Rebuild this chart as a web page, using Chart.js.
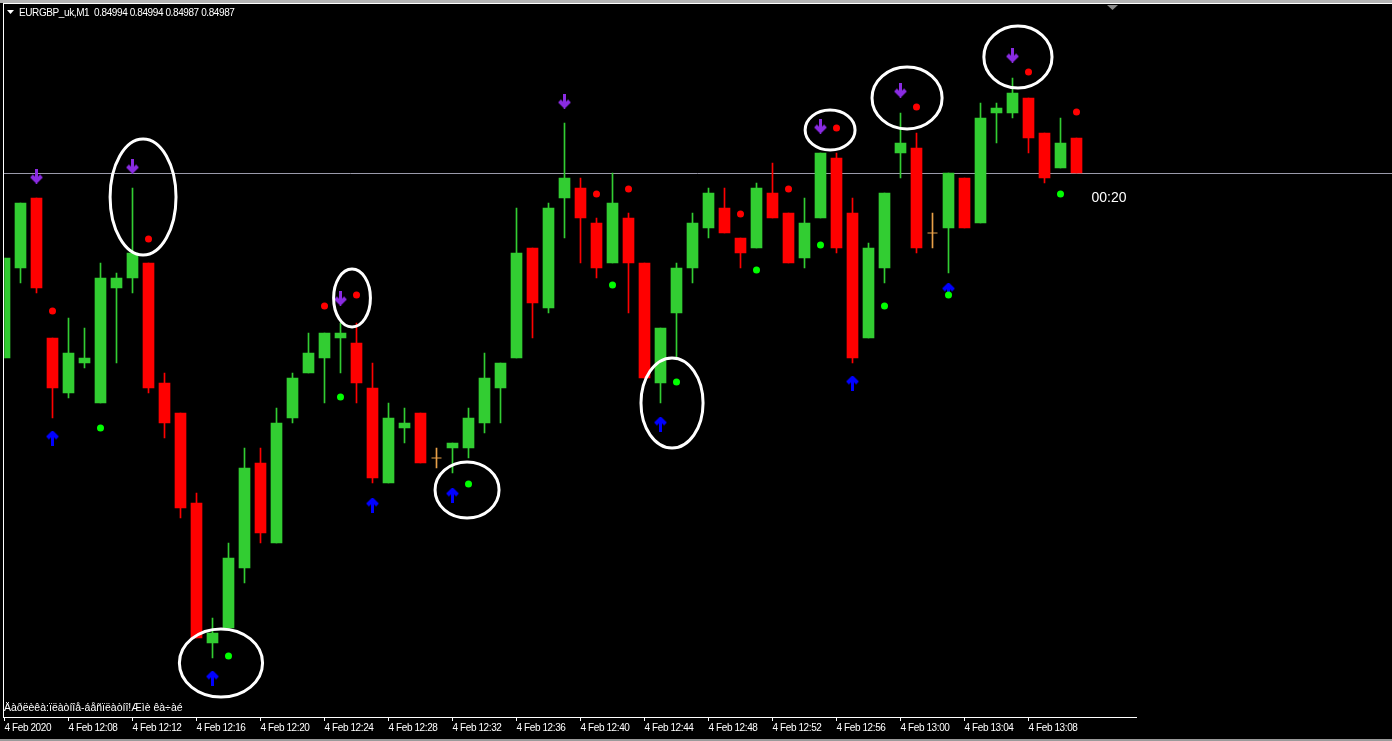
<!DOCTYPE html>
<html>
<head>
<meta charset="utf-8">
<script src="https://cdn.jsdelivr.net/npm/chart.js@4.4.1/dist/chart.umd.min.js"></script>
<style>
html, body { margin: 0; padding: 0; background: #000; overflow: hidden; }
#wrap { position: relative; width: 1392px; height: 741px; }
#c { position: absolute; left: 0; top: 0; }
.txt { position: absolute; color: #fff; font: 10px "Liberation Sans", Arial, sans-serif; letter-spacing: -0.4px; white-space: pre; }
#foot { font-size: 10.5px; letter-spacing: 0; }
</style>
</head>
<body>
<div id="wrap">
  <canvas id="c" width="1392" height="741"></canvas>
  <div class="txt" style="left:19px;top:7px">EURGBP_uk,M1  0.84994 0.84994 0.84987 0.84987</div>
  <div class="txt" id="foot" style="left:4px;top:701px">Äàðëèêà:ïëàòíîå-áåñïëàòíî!Æìè êà÷àé</div>
</div>
<script>
// EURGBP M1 candles, 12:04 .. 13:11
var opens  = [0.84950,0.84968,0.84982,0.84954,0.84943,0.84949,0.84941,0.84964,0.84966,0.84969,
              0.84945,0.84939,0.84921,0.84893,0.84896,0.84908,0.84929,0.84913,0.84938,0.84947,
              0.84950,0.84954,0.84953,0.84944,0.84925,0.84936,0.84939,0.84930,0.84932,0.84932,
              0.84937,0.84944,0.84950,0.84972,0.84960,0.84982,0.84984,0.84977,0.84969,0.84978,
              0.84969,0.84945,0.84959,0.84968,0.84976,0.84980,0.84974,0.84972,0.84983,0.84979,
              0.84970,0.84978,0.84990,0.84979,0.84954,0.84968,0.84991,0.84992,0.84975,0.84976,
              0.84986,0.84977,0.84999,0.84999,0.85002,0.84995,0.84988,0.84994];
var highs  = [0.84970,0.84981,0.84982,0.84954,0.84958,0.84956,0.84969,0.84967,0.84984,0.84969,
              0.84947,0.84939,0.84923,0.84898,0.84913,0.84932,0.84932,0.84940,0.84947,0.84955,
              0.84955,0.84957,0.84957,0.84949,0.84941,0.84940,0.84939,0.84932,0.84933,0.84940,
              0.84951,0.84949,0.84980,0.84972,0.84981,0.84997,0.84986,0.84978,0.84987,0.84979,
              0.84969,0.84956,0.84969,0.84979,0.84984,0.84984,0.84974,0.84985,0.84989,0.84979,
              0.84982,0.84991,0.84991,0.84982,0.84973,0.84983,0.84999,0.84995,0.84979,0.84987,
              0.84986,0.85001,0.85001,0.85006,0.85002,0.84995,0.84998,0.84994];
var lows   = [0.84950,0.84965,0.84963,0.84938,0.84942,0.84948,0.84941,0.84949,0.84963,0.84943,
              0.84934,0.84918,0.84894,0.84890,0.84896,0.84905,0.84913,0.84913,0.84937,0.84947,
              0.84941,0.84947,0.84941,0.84925,0.84925,0.84933,0.84929,0.84928,0.84927,0.84930,
              0.84935,0.84937,0.84950,0.84954,0.84959,0.84974,0.84969,0.84966,0.84969,0.84959,
              0.84946,0.84941,0.84950,0.84965,0.84974,0.84975,0.84968,0.84972,0.84978,0.84969,
              0.84968,0.84978,0.84971,0.84949,0.84954,0.84965,0.84986,0.84971,0.84972,0.84967,
              0.84976,0.84977,0.84993,0.84998,0.84991,0.84985,0.84988,0.84987];
var closes = [0.84970,0.84981,0.84964,0.84944,0.84951,0.84950,0.84966,0.84966,0.84971,0.84944,
              0.84937,0.84920,0.84894,0.84895,0.84910,0.84928,0.84915,0.84937,0.84946,0.84951,
              0.84955,0.84955,0.84945,0.84926,0.84938,0.84937,0.84929,0.84930,0.84933,0.84938,
              0.84946,0.84949,0.84971,0.84961,0.84980,0.84986,0.84978,0.84968,0.84981,0.84969,
              0.84946,0.84956,0.84968,0.84977,0.84983,0.84975,0.84971,0.84984,0.84978,0.84969,
              0.84977,0.84991,0.84972,0.84950,0.84972,0.84983,0.84993,0.84972,0.84975,0.84987,
              0.84976,0.84998,0.85000,0.85003,0.84994,0.84986,0.84993,0.84987];

// indicator marks (bar index + price)
var sellArrowIdx   = [2, 8, 21, 35, 51, 56, 63];
var sellArrowPrice = [0.849864, 0.849884, 0.849620, 0.850014, 0.849964, 0.850036, 0.850106];
var buyArrowIdx    = [3, 13, 23, 28, 41, 53, 59];
var buyArrowPrice  = [0.849340, 0.848860, 0.849206, 0.849226, 0.849368, 0.849450, 0.849636];
var redDotIdx      = [3, 9, 20, 22, 37, 39, 46, 49, 52, 57, 64, 67];
var redDotPrice    = [0.849594, 0.849738, 0.849604, 0.849626, 0.849828, 0.849838, 0.849788, 0.849838, 0.849960, 0.850002, 0.850072, 0.849992];
var greenDotIdx    = [6, 14, 21, 29, 38, 42, 47, 51, 55, 59, 66];
var greenDotPrice  = [0.849360, 0.848904, 0.849422, 0.849248, 0.849646, 0.849452, 0.849676, 0.849726, 0.849604, 0.849626, 0.849828];

// hand drawn circles: centre (bar, price), radius (bars, price)
var circleIdx   = [8.66, 21.72, 13.53, 28.91, 41.72, 51.6, 56.41, 63.34];
var circlePrice = [0.849822, 0.849620, 0.848890, 0.849236, 0.849410, 0.849956, 0.850020, 0.850102];
var circleRx    = [2.06, 1.15, 2.6, 2.0, 1.94, 1.56, 2.19, 2.13];
var circleRy    = [0.000116, 0.000058, 0.000068, 0.000056, 0.000090, 0.000040, 0.000062, 0.000062];

var tickIdx    = [0, 4, 8, 12, 16, 20, 24, 28, 32, 36, 40, 44, 48, 52, 56, 60, 64];
var timeLabels = ['4 Feb 2020', '4 Feb 12:08', '4 Feb 12:12', '4 Feb 12:16', '4 Feb 12:20', '4 Feb 12:24',
                  '4 Feb 12:28', '4 Feb 12:32', '4 Feb 12:36', '4 Feb 12:40', '4 Feb 12:44', '4 Feb 12:48',
                  '4 Feb 12:52', '4 Feb 12:56', '4 Feb 13:00', '4 Feb 13:04', '4 Feb 13:08'];
var timerText = '00:20';

var priceTop = 0.850208, priceBottom = 0.848782;

var UP = '#32cd32', DOWN = '#ff0000', DOJI = '#e8a048';
function candleColor(i) {
    if (closes[i] > opens[i]) return UP;
    if (closes[i] < opens[i]) return DOWN;
    return DOJI;
}

function makeArrow(color, down) {
    var c = document.createElement('canvas');
    c.width = 13; c.height = 15;
    var g = c.getContext('2d');
    g.fillStyle = color; g.strokeStyle = color;
    g.lineWidth = 4; g.lineJoin = 'miter';
    if (down) {
        g.fillRect(5, 0, 3, 12);
        g.beginPath(); g.moveTo(1.5, 7.5); g.lineTo(6.5, 12.5); g.lineTo(11.5, 7.5); g.stroke();
    } else {
        g.fillRect(5, 3, 3, 12);
        g.beginPath(); g.moveTo(1.5, 7.5); g.lineTo(6.5, 2.5); g.lineTo(11.5, 7.5); g.stroke();
    }
    return c;
}

var wickData = [], bodyData = [], dojiData = [];
for (var i = 0; i < opens.length; i++) {
    wickData.push({x: i, y: [lows[i], highs[i]]});
    if (opens[i] === closes[i]) dojiData.push({x: i, y: opens[i]});
    else bodyData.push({x: i, y: [opens[i], closes[i]]});
}
function pts(idx, price) { return idx.map(function(k, j) { return {x: k, y: price[j]}; }); }

var mt4Plugin = {
    id: 'mt4',
    beforeDraw: function(chart) {
        var ctx = chart.ctx;
        ctx.save();
        ctx.fillStyle = '#000';
        ctx.fillRect(0, 0, chart.width, chart.height);
        ctx.restore();
        ctx.letterSpacing = '-0.4px';
    },
    beforeDatasetsDraw: function(chart) {
        var ctx = chart.ctx, y = Math.round(chart.scales.y.getPixelForValue(closes[closes.length - 1])) + 0.5;
        ctx.save();
        ctx.strokeStyle = '#9a9aaa'; ctx.lineWidth = 1;
        ctx.beginPath(); ctx.moveTo(3, y); ctx.lineTo(chart.width, y); ctx.stroke();
        ctx.restore();
    },
    afterDatasetsDraw: function(chart) {
        var ctx = chart.ctx, xs = chart.scales.x, ys = chart.scales.y;
        ctx.save();
        // circles
        ctx.strokeStyle = '#fff'; ctx.lineWidth = 3;
        for (var j = 0; j < circleIdx.length; j++) {
            var cx = xs.getPixelForValue(circleIdx[j]);
            var cy = ys.getPixelForValue(circlePrice[j]);
            var rx = xs.getPixelForValue(circleIdx[j] + circleRx[j]) - cx;
            var ry = ys.getPixelForValue(circlePrice[j] - circleRy[j]) - cy;
            ctx.beginPath(); ctx.ellipse(cx, cy, rx, ry, 0, 0, Math.PI * 2); ctx.stroke();
        }
        // frame
        ctx.fillStyle = '#b4b4b4'; ctx.fillRect(0, 0, chart.width, 3);
        ctx.fillStyle = '#fff';
        ctx.fillRect(3, 3, chart.width - 3, 1);
        ctx.fillRect(3, 3, 1, 714);
        ctx.fillRect(3, 717, 1134, 1);
        ctx.fillStyle = '#9a9a9a'; ctx.fillRect(0, 739, chart.width, 2);
        // title triangle and shift marker
        ctx.fillStyle = '#fff';
        ctx.beginPath(); ctx.moveTo(7, 10); ctx.lineTo(14, 10); ctx.lineTo(10.5, 14); ctx.fill();
        ctx.fillStyle = '#8a8a8a';
        ctx.beginPath(); ctx.moveTo(1107, 5); ctx.lineTo(1118, 5); ctx.lineTo(1112.5, 10); ctx.fill();
        // countdown
        ctx.fillStyle = '#fff';
        ctx.letterSpacing = '0px';
        ctx.font = '14px "Liberation Sans", Arial, sans-serif';
        ctx.textBaseline = 'alphabetic';
        ctx.fillText(timerText, xs.getPixelForValue(opens.length) - 1, ys.getPixelForValue(closes[closes.length - 1]) + 29);
        ctx.restore();
    }
};

new Chart(document.getElementById('c').getContext('2d'), {
    type: 'bar',
    data: {
        datasets: [
            { label: 'wicks', data: wickData, barThickness: 1, grouped: false, order: 4,
              backgroundColor: function(c) { return c.raw ? candleColor(c.raw.x) : UP; } },
            { label: 'bodies', data: bodyData, barThickness: 11, grouped: false, order: 3,
              backgroundColor: function(c) { return c.raw ? candleColor(c.raw.x) : UP; } },
            { type: 'scatter', label: 'doji', data: dojiData, pointStyle: 'line', pointRadius: 5,
              borderColor: DOJI, borderWidth: 1, order: 2 },
            { type: 'scatter', label: 'sell', data: pts(sellArrowIdx, sellArrowPrice),
              pointStyle: makeArrow('#8a2be2', true), order: 1 },
            { type: 'scatter', label: 'buy', data: pts(buyArrowIdx, buyArrowPrice),
              pointStyle: makeArrow('#0000ff', false), order: 1 },
            { type: 'scatter', label: 'red dots', data: pts(redDotIdx, redDotPrice),
              pointRadius: 3.5, pointBackgroundColor: '#ff0000', borderWidth: 0, order: 0 },
            { type: 'scatter', label: 'green dots', data: pts(greenDotIdx, greenDotPrice),
              pointRadius: 3.5, pointBackgroundColor: '#00ff00', borderWidth: 0, order: 0 }
        ]
    },
    options: {
        responsive: false,
        animation: false,
        events: [],
        layout: { autoPadding: false, padding: { left: 4.5, top: 4, right: 0, bottom: 0 } },
        plugins: { legend: { display: false }, tooltip: { enabled: false } },
        scales: {
            x: {
                type: 'linear', min: 0, max: (1392 - 4.5) / 16, offset: false,
                afterBuildTicks: function(s) { s.ticks = tickIdx.map(function(v) { return {value: v}; }); },
                afterFit: function(s) { s.height = 24; s.paddingLeft = 0; s.paddingRight = 0; },
                grid: { display: true, offset: false, drawOnChartArea: false, drawTicks: true, tickLength: 4, color: '#fff' },
                border: { display: false },
                ticks: {
                    color: '#fff', align: 'start', maxRotation: 0, autoSkip: false, padding: 1,
                    font: { family: '"Liberation Sans", Arial, sans-serif', size: 10 },
                    callback: function(v, i) { return timeLabels[i]; }
                }
            },
            y: { type: 'linear', display: false, min: priceBottom, max: priceTop }
        }
    },
    plugins: [mt4Plugin]
});
</script>
</body>
</html>
